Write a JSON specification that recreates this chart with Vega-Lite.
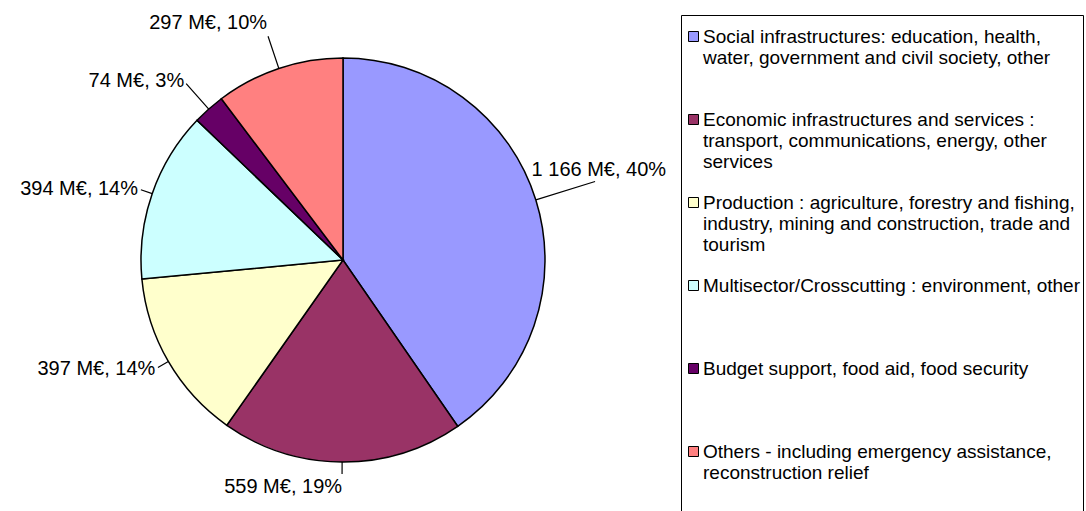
{
  "$schema": "https://vega.github.io/schema/vega-lite/v6.json",
  "width": 686,
  "height": 520,
  "padding": 0,
  "autosize": {"type": "pad"},
  "background": "white",
  "config": {"view": {"stroke": null}, "font": "Liberation Sans"},
  "data": {"values": [
    {"idx": 1, "sector": "Social infrastructures: education, health,|water, government and civil society, other", "value": 1166, "label": "1 166 M€, 40%"},
    {"idx": 2, "sector": "Economic infrastructures and services :|transport, communications, energy, other|services", "value": 559, "label": "559 M€, 19%"},
    {"idx": 3, "sector": "Production : agriculture, forestry and fishing,|industry, mining and construction, trade and|tourism", "value": 397, "label": "397 M€, 14%"},
    {"idx": 4, "sector": "Multisector/Crosscutting : environment, other", "value": 394, "label": "394 M€, 14%"},
    {"idx": 5, "sector": "Budget support, food aid, food security", "value": 74, "label": "74 M€, 3%"},
    {"idx": 6, "sector": "Others - including emergency assistance,|reconstruction relief", "value": 297, "label": "297 M€, 10%"}
  ]},
  "encoding": {
    "theta": {"field": "value", "type": "quantitative", "stack": true},
    "order": {"field": "idx", "type": "quantitative"}
  },
  "layer": [
    {
      "mark": {"type": "arc", "outerRadius": 202, "stroke": "#000000", "strokeWidth": 1.5},
      "encoding": {
        "color": {
          "field": "sector",
          "type": "nominal",
          "scale": {
            "domain": [
              "Social infrastructures: education, health,|water, government and civil society, other",
              "Economic infrastructures and services :|transport, communications, energy, other|services",
              "Production : agriculture, forestry and fishing,|industry, mining and construction, trade and|tourism",
              "Multisector/Crosscutting : environment, other",
              "Budget support, food aid, food security",
              "Others - including emergency assistance,|reconstruction relief"
            ],
            "range": ["#9999FF", "#993366", "#FFFFCC", "#CCFFFF", "#660066", "#FF8080"]
          },
          "legend": {
            "orient": "none",
            "legendX": 681,
            "legendY": 15,
            "title": " ",
            "titleFontSize": 7,
            "titlePadding": 2,
            "padding": 3,
            "strokeColor": "#000000",
            "fillColor": "#FFFFFF",
            "symbolType": "square",
            "symbolSize": 100,
            "symbolStrokeColor": "#000000",
            "symbolStrokeWidth": 1,
            "symbolOpacity": 1,
            "labelFont": "Liberation Sans",
            "labelFontSize": 19,
            "labelLineHeight": 20,
            "labelColor": "#000000",
            "labelLimit": 600,
            "labelOffset": 0,
            "rowPadding": 0,
            "labelExpr": "slice(split(datum.label + '| | | ', '|'), 0, 4)"
          }
        }
      }
    },
    {
      "mark": {
        "type": "arc",
        "innerRadius": 202,
        "outerRadius": {"expr": "datum.idx == 1 ? 264 : datum.idx >= 5 ? 236 : 214"},
        "padAngle": 3,
        "fill": "transparent",
        "stroke": "#000000",
        "strokeWidth": 1.2
      },
      "encoding": {"detail": {"field": "sector", "type": "nominal"}}
    },
    {
      "mark": {
        "type": "text",
        "radius": {"expr": "datum.idx == 1 ? 268 : datum.idx >= 5 ? 239 : 217"},
        "align": {"expr": "datum.idx == 1 ? 'center' : 'right'"},
        "baseline": {"expr": "datum.idx == 1 || datum.idx == 6 ? 'bottom' : datum.idx == 2 ? 'top' : 'middle'"},
        "fontSize": 20,
        "font": "Liberation Sans",
        "color": "#000000"
      },
      "encoding": {
        "detail": {"field": "sector", "type": "nominal"},
        "text": {"field": "label", "type": "nominal"}
      }
    }
  ]
}
